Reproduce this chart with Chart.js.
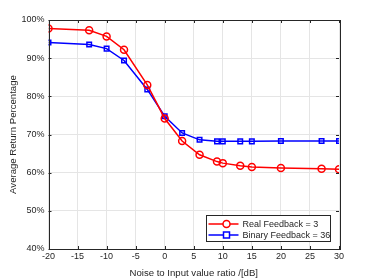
<!DOCTYPE html>
<html>
<head>
<meta charset="utf-8">
<script src="https://cdn.jsdelivr.net/npm/chart.js@4"></script>
<style>
    html, body { margin: 0; padding: 0; background: #fff; }
    #box { width: 374px; height: 280px; }
</style>
</head>
<body>
<div id="box"><canvas id="grafico"></canvas></div>
<script>
const noiseRatio = [-20, -13, -10, -7, -3, 0, 3, 6, 9, 10, 13, 15, 20, 27, 30];
const realFeedback = [97.8, 97.3, 95.7, 92.2, 83.0, 74.2, 68.3, 64.7, 62.9, 62.5, 61.8, 61.5, 61.2, 61.0, 60.9];
const binaryFeedback = [94.1, 93.6, 92.5, 89.4, 81.8, 74.8, 70.4, 68.6, 68.2, 68.2, 68.2, 68.2, 68.3, 68.3, 68.3];
const legendLabels = ['Real Feedback = 3', 'Binary Feedback = 36'];

const eixo = '#262626';
const familia = '"Liberation Sans", Arial, sans-serif';

// moldura, ticks para dentro e legenda dentro do gráfico
const moldura = {
    id: 'moldura',
    afterDraw(chart) {
        const ctx = chart.ctx;
        const a = chart.chartArea;
        const sx = chart.scales.x, sy = chart.scales.y;
        ctx.save();
        ctx.strokeStyle = eixo;
        ctx.lineWidth = 1;
        ctx.beginPath();
        sx.ticks.forEach(t => {
            const px = Math.round(sx.getPixelForValue(t.value)) + 0.5;
            ctx.moveTo(px, a.bottom); ctx.lineTo(px, a.bottom - 3);
            ctx.moveTo(px, a.top); ctx.lineTo(px, a.top + 3);
        });
        sy.ticks.forEach(t => {
            const py = Math.round(sy.getPixelForValue(t.value)) + 0.5;
            ctx.moveTo(a.left, py); ctx.lineTo(a.left + 3, py);
            ctx.moveTo(a.right, py); ctx.lineTo(a.right - 3, py);
        });
        ctx.stroke();
        ctx.strokeRect(Math.round(a.left) + 0.5, Math.round(a.top) + 0.5,
            Math.round(a.right - a.left), Math.round(a.bottom - a.top));

        // legenda
        const lx = 206.5, ly = 215.5, lw = 124, lh = 26;
        ctx.fillStyle = '#fff';
        ctx.fillRect(lx, ly, lw, lh);
        ctx.strokeStyle = eixo;
        ctx.strokeRect(lx, ly, lw, lh);
        ctx.font = '9px ' + familia;
        ctx.textBaseline = 'middle';
        chart.data.datasets.forEach((ds, i) => {
            const y = ly + 8.5 + i * 11;
            ctx.strokeStyle = ds.borderColor;
            ctx.lineWidth = 1.5;
            ctx.beginPath();
            ctx.moveTo(lx + 2, y); ctx.lineTo(lx + 32, y);
            ctx.stroke();
            const cx = lx + 20;
            ctx.beginPath();
            if (ds.pointStyle === 'rect') {
                ctx.rect(cx - 3, y - 3, 6, 6);
            } else {
                ctx.arc(cx, y, 3.5, 0, Math.PI * 2);
            }
            ctx.fillStyle = '#fff';
            ctx.fill();
            ctx.stroke();
            ctx.fillStyle = eixo;
            ctx.fillText(ds.label, lx + 36, y + 0.5);
        });
        ctx.restore();
    }
};

document.addEventListener('DOMContentLoaded', function () {
    const canvas = document.getElementById('grafico');
    const fonte = { family: familia, size: 9 };
    const fonteTitulo = { family: familia, size: 9.6 };

    new Chart(canvas.getContext('2d'), {
        type: 'line',
        data: {
            datasets: [
                {
                    label: legendLabels[0],
                    data: noiseRatio.map((x, i) => ({ x: x, y: realFeedback[i] })),
                    borderColor: '#ff0000',
                    backgroundColor: '#ff0000',
                    pointBackgroundColor: 'rgba(255,255,255,0)',
                    pointStyle: 'circle',
                    pointRadius: 3.5,
                    pointBorderWidth: 1.5,
                    borderWidth: 1.5
                },
                {
                    label: legendLabels[1],
                    data: noiseRatio.map((x, i) => ({ x: x, y: binaryFeedback[i] })),
                    borderColor: '#0000ff',
                    backgroundColor: '#0000ff',
                    pointBackgroundColor: 'rgba(255,255,255,0)',
                    pointStyle: 'rect',
                    pointRadius: 3.2,
                    pointBorderWidth: 1.5,
                    borderWidth: 1.5
                }
            ]
        },
        options: {
            responsive: true,
            maintainAspectRatio: false,
            animation: false,
            layout: { padding: { top: 20, right: 35, left: 0, bottom: 0 } },
            plugins: {
                legend: { display: false },
                tooltip: { enabled: false }
            },
            scales: {
                x: {
                    type: 'linear',
                    min: -20,
                    max: 30,
                    afterFit: s => { s.height = 31; },
                    ticks: { stepSize: 5, color: eixo, font: fonte, padding: 2, maxRotation: 0 },
                    grid: { color: '#e5e5e5', tickLength: 0, drawTicks: false },
                    border: { display: false },
                    title: { display: true, text: 'Noise to Input value ratio /[dB]', color: eixo, font: fonteTitulo, padding: { top: 2, bottom: 1 } }
                },
                y: {
                    min: 40,
                    max: 100,
                    afterFit: s => { s.width = 48.5; },
                    ticks: {
                        stepSize: 10, color: eixo, font: fonte, padding: 4,
                        callback: v => v + '%'
                    },
                    grid: { color: '#e5e5e5', tickLength: 0, drawTicks: false },
                    border: { display: false },
                    title: { display: true, text: 'Average Return Percentage', color: eixo, font: fonteTitulo, padding: { top: 8, bottom: 2 } }
                }
            }
        },
        plugins: [moldura]
    });
});
</script>
</body>
</html>
